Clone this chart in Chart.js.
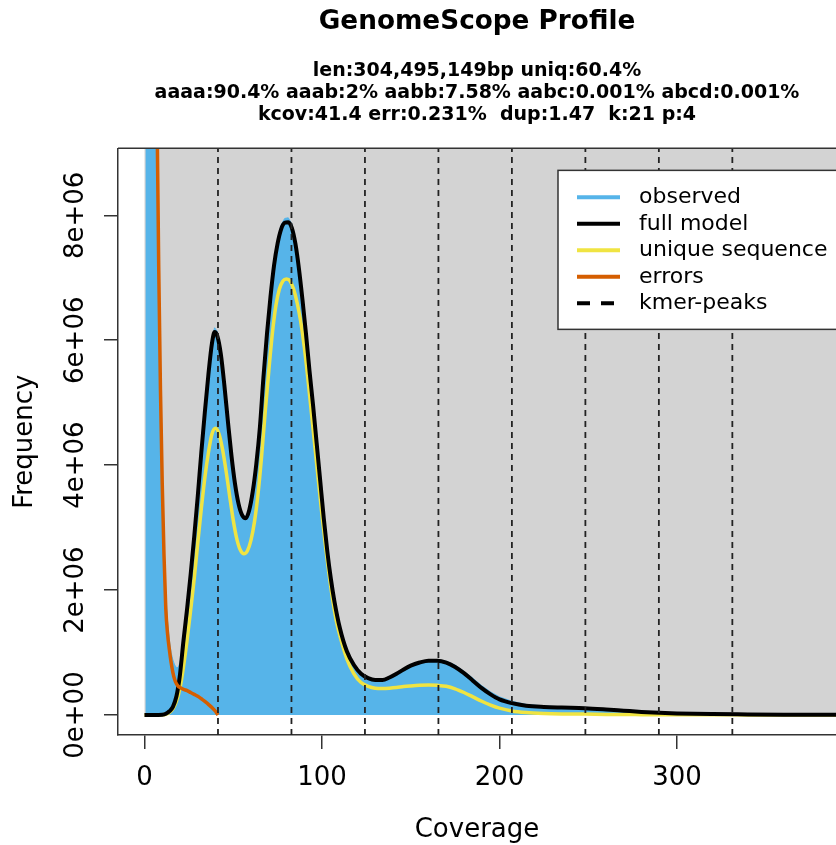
<!DOCTYPE html>
<html>
<head>
<meta charset="utf-8">
<script src="https://cdn.jsdelivr.net/npm/chart.js@4.4.0/dist/chart.umd.min.js"></script>
<style>
  html, body { margin: 0; padding: 0; background: #fff; overflow: hidden; }
  canvas { display: block; }
</style>
</head>
<body>
<canvas id="gs" width="836" height="845"></canvas>
<script>
// values
const coverageObs = [0.5, 3, 5, 6.5, 8, 10, 11, 12, 13, 14, 15, 16, 17, 18, 19, 20, 21, 22, 24, 26, 28, 30, 32, 34, 36, 38, 39.5, 41, 43, 45, 47, 49, 51, 53, 55, 57, 59, 61, 63, 65, 67, 69, 71, 73, 75, 77, 79, 81, 83, 85, 87, 89, 91, 93, 95, 97, 99, 101, 103, 105, 107, 110, 114, 118, 122, 126, 130, 134, 138, 142, 146, 150, 155, 160, 165, 170, 175, 180, 185, 190, 195, 200, 207, 215, 225, 235, 248, 260, 270, 280, 290, 300, 320, 340, 360, 390];
const observed = [9e7, 4e7, 1.8e7, 9.6e6, 7.4e6, 3.85e6, 2.75e6, 1.95e6, 1.5e6, 1.2e6, 1.0e6, 8.8e5, 8.0e5, 7.6e5, 7.6e5, 8.4e5, 1.0e6, 1.25e6, 1.78e6, 2.33e6, 2.93e6, 3.57e6, 4.28e6, 4.93e6, 5.53e6, 6.04e6, 6.2e6, 6.14e6, 5.84e6, 5.33e6, 4.74e6, 4.18e6, 3.72e6, 3.4e6, 3.22e6, 3.17e6, 3.3e6, 3.6e6, 4.05e6, 4.64e6, 5.45e6, 6.15e6, 6.76e6, 7.26e6, 7.62e6, 7.85e6, 7.95e6, 7.96e6, 7.86e6, 7.6e6, 7.2e6, 6.7e6, 6.14e6, 5.54e6, 4.98e6, 4.38e6, 3.78e6, 3.18e6, 2.65e6, 2.2e6, 1.84e6, 1.42e6, 1.04e6, 8.1e5, 6.7e5, 6.0e5, 5.7e5, 5.7e5, 6.1e5, 6.7e5, 7.4e5, 8.0e5, 8.5e5, 8.8e5, 8.8e5, 8.6e5, 8.0e5, 7.0e5, 5.9e5, 4.7e5, 3.7e5, 2.9e5, 2.2e5, 1.7e5, 1.45e5, 1.3e5, 1.15e5, 9.5e4, 7.5e4, 5.5e4, 4.0e4, 2.8e4, 1.7e4, 1.1e4, 7e3, 4e3];

const coverageModel = [0, 5, 10, 12, 14, 16, 18, 19, 20, 22, 24, 26, 28, 30, 32, 34, 36, 38, 39.5, 41, 43, 45, 47, 49, 51, 53, 55, 57, 59, 61, 63, 65, 67, 69, 71, 73, 75, 77, 79, 81, 83, 85, 87, 89, 91, 93, 95, 97, 99, 101, 103, 105, 107, 110, 114, 118, 122, 126, 130, 134, 138, 142, 146, 150, 155, 160, 165, 170, 175, 180, 185, 190, 195, 200, 207, 215, 225, 235, 248, 260, 270, 280, 290, 300, 320, 340, 360, 390];
const fullModel = [0, 0, 5e3, 2e4, 6e4, 1.3e5, 3.0e5, 4.5e5, 6.5e5, 1.2e6, 1.7e6, 2.25e6, 2.85e6, 3.5e6, 4.2e6, 4.85e6, 5.45e6, 5.95e6, 6.13e6, 6.07e6, 5.78e6, 5.28e6, 4.7e6, 4.15e6, 3.7e6, 3.38e6, 3.2e6, 3.15e6, 3.28e6, 3.58e6, 4.02e6, 4.6e6, 5.4e6, 6.1e6, 6.7e6, 7.2e6, 7.55e6, 7.78e6, 7.88e6, 7.89e6, 7.8e6, 7.55e6, 7.15e6, 6.65e6, 6.1e6, 5.5e6, 4.95e6, 4.35e6, 3.75e6, 3.15e6, 2.62e6, 2.18e6, 1.82e6, 1.4e6, 1.02e6, 8.0e5, 6.6e5, 5.9e5, 5.6e5, 5.6e5, 6.0e5, 6.6e5, 7.3e5, 7.9e5, 8.4e5, 8.7e5, 8.7e5, 8.4e5, 7.7e5, 6.7e5, 5.5e5, 4.3e5, 3.3e5, 2.5e5, 1.9e5, 1.5e5, 1.3e5, 1.2e5, 1.1e5, 9e4, 7e4, 5e4, 3.5e4, 2.5e4, 1.5e4, 1e4, 6e3, 3e3];

const coverageUnique = [0, 10, 12, 14, 16, 18, 20, 22, 24, 26, 28, 30, 32, 34, 36, 38, 40, 42, 44, 46, 48, 50, 52, 54, 56, 58, 60, 62, 64, 66, 68, 70, 72, 74, 76, 78, 80, 82, 84, 86, 88, 90, 92, 94, 96, 98, 100, 102, 104, 106, 108, 110, 114, 118, 122, 126, 130, 134, 138, 142, 146, 150, 155, 160, 165, 170, 175, 180, 185, 190, 195, 200, 207, 215, 225, 235, 248, 260, 280, 300, 340, 390];
const uniqueSeq = [0, 3e3, 1.2e4, 4e4, 1e5, 2.2e5, 4.3e5, 7.8e5, 1.2e6, 1.68e6, 2.18e6, 2.75e6, 3.3e6, 3.8e6, 4.2e6, 4.5e6, 4.59e6, 4.5e6, 4.25e6, 3.9e6, 3.5e6, 3.12e6, 2.82e6, 2.64e6, 2.58e6, 2.63e6, 2.8e6, 3.1e6, 3.55e6, 4.15e6, 4.85e6, 5.5e6, 6.1e6, 6.55e6, 6.82e6, 6.95e6, 6.98e6, 6.95e6, 6.82e6, 6.6e6, 6.3e6, 5.9e6, 5.4e6, 4.85e6, 4.3e6, 3.75e6, 3.2e6, 2.7e6, 2.25e6, 1.85e6, 1.52e6, 1.28e6, 9.0e5, 6.6e5, 5.2e5, 4.6e5, 4.3e5, 4.25e5, 4.3e5, 4.4e5, 4.55e5, 4.65e5, 4.75e5, 4.8e5, 4.75e5, 4.6e5, 4.2e5, 3.6e5, 2.9e5, 2.2e5, 1.6e5, 1.1e5, 6.5e4, 4e4, 2.5e4, 1.8e4, 1.5e4, 1e4, 6e3, 4e3, 2e3, 1e3];

const coverageErr = [1, 3, 5, 6, 7, 8, 9, 10, 11, 12, 13, 14, 15, 16, 17, 18, 19, 20, 22, 24, 26, 28, 30, 32, 34, 36, 38, 40, 41.4];
const errors = [1e8, 4e7, 1.9e7, 1.35e7, 9.8e6, 7.2e6, 5.2e6, 3.7e6, 2.55e6, 1.7e6, 1.3e6, 1.05e6, 8.4e5, 6.8e5, 5.7e5, 5.0e5, 4.6e5, 4.4e5, 4.1e5, 3.9e5, 3.6e5, 3.3e5, 3.0e5, 2.6e5, 2.2e5, 1.7e5, 1.2e5, 6e4, 0];

const kmerPeaks = [41.4, 82.8, 124.2, 165.6, 207, 248.4, 289.8, 331.2];

const xTicks = [0, 100, 200, 300];
const yTicks = [0, 2e6, 4e6, 6e6, 8e6];
const yTickLabels = ['0e+00', '2e+06', '4e+06', '6e+06', '8e+06'];

const xRange = [-14.93, 389.6];
const yRange = [-0.32e6, 9.072e6];

const titleText = 'GenomeScope Profile';
const statsLines = [
  'len:304,495,149bp uniq:60.4%',
  'aaaa:90.4% aaab:2% aabb:7.58% aabc:0.001% abcd:0.001%',
  'kcov:41.4 err:0.231%  dup:1.47  k:21 p:4'
];

const FONT = '"DejaVu Sans", "Noto Sans", sans-serif';
Chart.defaults.font.family = FONT;
Chart.defaults.color = '#000';

function pts(xs, ys) {
  return xs.map((x, i) => ({ x: x, y: ys[i] }));
}

let peakPts = [];
kmerPeaks.forEach(p => {
  peakPts.push({ x: p, y: yRange[0] }, { x: p, y: yRange[1] }, { x: p, y: null });
});

const legendRows = [
  { label: 'observed', color: '#56B4E9' },
  { label: 'full model', color: '#000000' },
  { label: 'unique sequence', color: '#F0E442' },
  { label: 'errors', color: '#D55E00' },
  { label: 'kmer-peaks', color: '#000000', dash: true }
];

const decor = {
  id: 'decor',
  beforeDatasetsDraw(chart) {
    const { ctx, chartArea } = chart;
    const xs = chart.scales.x, ys = chart.scales.y;
    const x0 = xs.getPixelForValue(0), y0 = ys.getPixelForValue(0);
    ctx.save();
    ctx.fillStyle = '#D3D3D3';
    ctx.fillRect(x0, chartArea.top, chartArea.right - x0, y0 - chartArea.top);
    ctx.restore();
  },
  afterDatasetsDraw(chart) {
    const { ctx, chartArea } = chart;
    const ys = chart.scales.y;
    ctx.save();
    // top edge of the box
    ctx.strokeStyle = '#333';
    ctx.lineWidth = 1.5;
    ctx.beginPath();
    ctx.moveTo(chartArea.left, chartArea.top);
    ctx.lineTo(chartArea.right + 2, chartArea.top);
    ctx.stroke();

    // legend
    const lx = chartArea.right - 278, ly = chartArea.top + 22;
    ctx.fillStyle = '#fff';
    ctx.fillRect(lx, ly, 320, 159);
    ctx.strokeStyle = '#333';
    ctx.lineWidth = 1.5;
    ctx.strokeRect(lx, ly, 320, 159);
    ctx.font = '22px ' + FONT;
    ctx.textAlign = 'left';
    ctx.textBaseline = 'middle';
    legendRows.forEach((r, i) => {
      const y = ly + 27 + i * 26.5;
      ctx.strokeStyle = r.color;
      ctx.lineWidth = 4;
      ctx.setLineDash(r.dash ? [13, 11] : []);
      ctx.beginPath();
      ctx.moveTo(lx + 19, y);
      ctx.lineTo(lx + 62, y);
      ctx.stroke();
      ctx.setLineDash([]);
      ctx.fillStyle = '#000';
      ctx.fillText(r.label, lx + 81, y);
    });

    // y tick labels, rotated like R's
    ctx.font = '26px ' + FONT;
    ctx.textAlign = 'center';
    ctx.textBaseline = 'middle';
    ctx.fillStyle = '#000';
    yTicks.forEach((v, i) => {
      ctx.save();
      ctx.translate(76, ys.getPixelForValue(v));
      ctx.rotate(-Math.PI / 2);
      ctx.fillText(yTickLabels[i], 0, 0);
      ctx.restore();
    });
    ctx.restore();
  }
};

new Chart(document.getElementById('gs'), {
  type: 'line',
  data: {
    datasets: [
      {
        label: 'kmer-peaks',
        data: peakPts,
        borderColor: '#222',
        borderWidth: 1.8,
        borderDash: [6, 5],
        spanGaps: false,
        pointRadius: 0,
        order: 0
      },
      {
        label: 'errors',
        data: pts(coverageErr, errors),
        borderColor: '#D55E00',
        borderWidth: 3.5,
        cubicInterpolationMode: 'monotone',
        pointRadius: 0,
        order: 1
      },
      {
        label: 'full model',
        data: pts(coverageModel, fullModel),
        borderColor: '#000',
        borderWidth: 4,
        cubicInterpolationMode: 'monotone',
        pointRadius: 0,
        order: 2
      },
      {
        label: 'unique sequence',
        data: pts(coverageUnique, uniqueSeq),
        borderColor: '#F0E442',
        borderWidth: 3.5,
        cubicInterpolationMode: 'monotone',
        pointRadius: 0,
        order: 3
      },
      {
        label: 'observed',
        data: pts(coverageObs, observed),
        borderColor: '#56B4E9',
        backgroundColor: '#56B4E9',
        borderWidth: 1,
        fill: 'origin',
        pointRadius: 0,
        tension: 0,
        order: 4
      }
    ]
  },
  options: {
    responsive: false,
    animation: false,
    devicePixelRatio: 1,
    layout: { padding: 0 },
    plugins: {
      legend: { display: false },
      tooltip: { enabled: false },
      title: {
        display: true,
        text: titleText,
        fullSize: false,
        font: { size: 26.3, weight: 'bold' },
        color: '#000',
        padding: { top: 6.4, bottom: 2.4 }
      },
      subtitle: {
        display: true,
        text: statsLines,
        fullSize: false,
        font: { size: 19, weight: 'bold', lineHeight: '22px' },
        color: '#000',
        padding: { top: 19.4, bottom: 22.6 }
      }
    },
    scales: {
      x: {
        type: 'linear',
        min: xRange[0],
        max: xRange[1],
        afterBuildTicks: s => { s.ticks = xTicks.map(v => ({ value: v })); },
        afterFit: s => { s.height = 110; },
        ticks: { font: { size: 26 }, color: '#000', padding: 14, maxRotation: 0, autoSkip: false },
        grid: { drawOnChartArea: false, tickLength: 14, color: '#333', lineWidth: 1.5 },
        border: { color: '#333', width: 1.5 },
        title: { display: true, text: 'Coverage', font: { size: 26, lineHeight: 1 }, color: '#000', padding: { top: 0, bottom: 1.6 } }
      },
      y: {
        type: 'linear',
        min: yRange[0],
        max: yRange[1],
        afterBuildTicks: s => { s.ticks = yTicks.map(v => ({ value: v })); },
        afterFit: s => { s.width = 118; },
        ticks: { display: false },
        grid: { drawOnChartArea: false, tickLength: 14, color: '#333', lineWidth: 1.5 },
        border: { color: '#333', width: 1.5 },
        title: { display: true, text: 'Frequency', font: { size: 26 }, color: '#000', padding: { top: 9.4, bottom: 0 } }
      }
    }
  },
  plugins: [decor]
});
</script>
</body>
</html>
